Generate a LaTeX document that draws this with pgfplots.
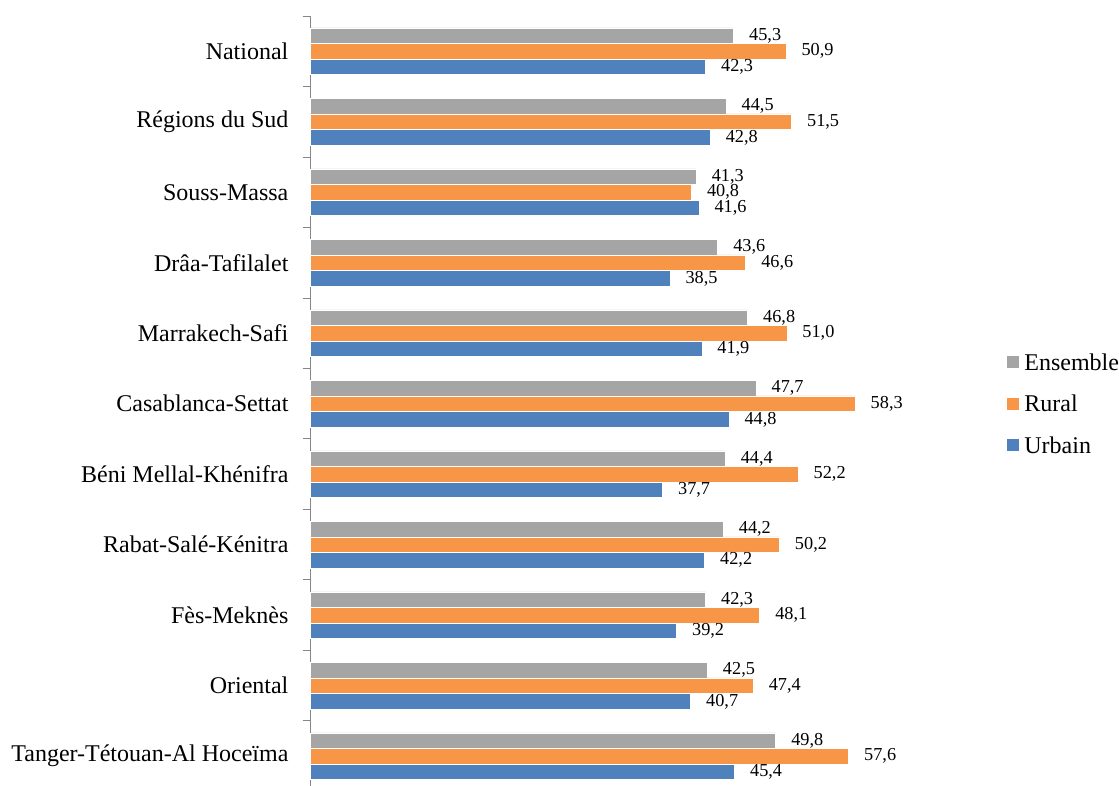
\documentclass[border=0pt]{standalone}
\usepackage{pgfplots}
\pgfplotsset{compat=1.18}
\usepackage{fontspec}
\setmainfont{Liberation Serif}
\definecolor{cEns}{HTML}{A5A5A5}
\definecolor{cRur}{HTML}{F79646}
\definecolor{cUrb}{HTML}{4F81BD}
\definecolor{axgray}{HTML}{868686}
\pgfplotstableread{
idx ens rur urb
0 45.3 50.9 42.3
1 44.5 51.5 42.8
2 41.3 40.8 41.6
3 43.6 46.6 38.5
4 46.8 51.0 41.9
5 47.7 58.3 44.8
6 44.4 52.2 37.7
7 44.2 50.2 42.2
8 42.3 48.1 39.2
9 42.5 47.4 40.7
10 49.8 57.6 45.4
}\datatable
\begin{document}
\begin{tikzpicture}
\useasboundingbox (0pt,0pt) rectangle (839.25pt,-588.75pt);
\begin{axis}[
  at={(232.5pt,-12pt)}, anchor=north west,
  scale only axis, width=490.9pt, height=581.6pt,
  xmin=0, xmax=70, ymin=-0.5, ymax=10.5, y dir=reverse,
  xbar, bar width=11.7pt,
  axis x line=none, axis y line*=left,
  axis line style={draw=axgray, line width=0.75pt},
  ytick={0,...,10}, major tick length=0pt,
  minor ytick={-0.5,0.5,...,10.5}, minor tick length=5.5pt,
  tick align=outside, ytick pos=left,
  minor tick style={draw=axgray, line width=0.75pt},
  yticklabels={National,Régions du Sud,Souss-Massa,Drâa-Tafilalet,Marrakech-Safi,Casablanca-Settat,Béni Mellal-Khénifra,Rabat-Salé-Kénitra,Fès-Meknès,Oriental,Tanger-Tétouan-Al Hoceïma},
  yticklabel style={font=\fontsize{18}{20}\selectfont, inner sep=0pt, xshift=-16pt},
  clip=false,
  nodes near coords,
  nodes near coords style={font=\fontsize{13.7}{15}\selectfont, inner sep=0pt, anchor=west, xshift=11.5pt, text=black,
    /pgf/number format/.cd, use comma, fixed, fixed zerofill, precision=1, assume math mode=true},
  legend style={draw=none, fill=none, inner sep=0pt, at={(1.065,0.5)}, anchor=west,
    font=\fontsize{18}{20}\selectfont, row sep=19pt, column sep=3.75pt,
    nodes={inner sep=0pt, text height=12pt, text depth=0pt}},
  legend cell align=left,
  legend image code/.code={\path[#1, draw=none] (0pt,-4.5pt) rectangle (9pt,4.5pt);},
]
\addplot[fill=cEns, draw=white, line width=0.4pt, bar shift=11.7pt] table[x=ens, y=idx] {\datatable};
\addplot[fill=cRur, draw=white, line width=0.4pt, bar shift=0pt] table[x=rur, y=idx] {\datatable};
\addplot[fill=cUrb, draw=white, line width=0.4pt, bar shift=-11.7pt] table[x=urb, y=idx] {\datatable};
\legend{Ensemble, Rural, Urbain}
\end{axis}
\end{tikzpicture}
\end{document}
